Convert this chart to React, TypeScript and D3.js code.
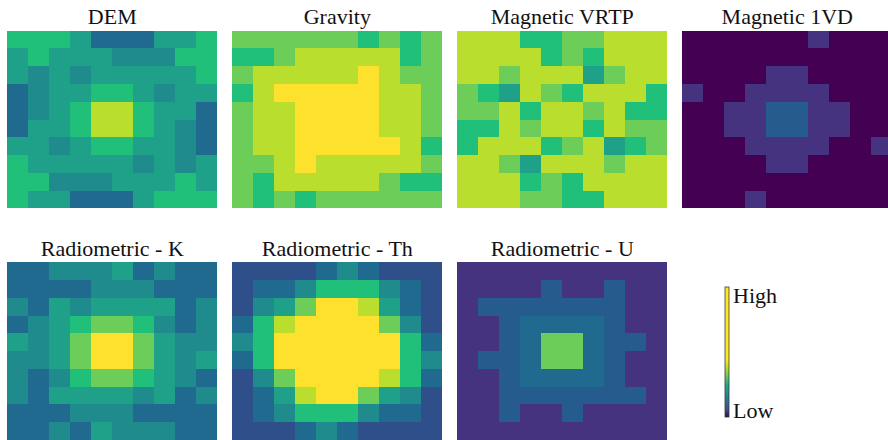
import React from "react";
import * as d3 from "d3";

// Discrete value levels (0 = lowest, 10 = highest) and the colours they map to.
const levelDomain = [0, 1, 2, 3, 4, 5, 6, 7, 8, 9, 10];
const levelColors = [
  "#440154",
  "#45337f",
  "#2e4f8a",
  "#265c8d",
  "#1f6a8e",
  "#1f8b8c",
  "#1fa088",
  "#20c07b",
  "#6dcd59",
  "#b9de2e",
  "#fde12d",
];

const panelTitles = [
  "DEM",
  "Gravity",
  "Magnetic VRTP",
  "Magnetic 1VD",
  "Radiometric - K",
  "Radiometric - Th",
  "Radiometric - U",
];

const demGrid = [
  [7, 7, 7, 6, 4, 4, 4, 6, 6, 7],
  [6, 7, 6, 6, 6, 5, 5, 5, 7, 7],
  [6, 5, 6, 5, 6, 6, 6, 6, 6, 7],
  [4, 5, 6, 6, 7, 7, 6, 5, 6, 6],
  [4, 5, 6, 7, 9, 9, 7, 6, 6, 4],
  [4, 6, 6, 7, 9, 9, 7, 6, 5, 4],
  [6, 6, 5, 6, 7, 7, 6, 6, 5, 4],
  [7, 6, 6, 6, 6, 6, 5, 6, 5, 6],
  [7, 7, 5, 5, 5, 6, 6, 6, 7, 6],
  [7, 6, 6, 4, 4, 4, 6, 7, 7, 7],
];

const gravityGrid = [
  [8, 8, 8, 8, 8, 8, 7, 8, 7, 8],
  [7, 7, 8, 9, 9, 9, 9, 9, 7, 8],
  [8, 9, 9, 9, 9, 9, 10, 9, 8, 8],
  [7, 9, 10, 10, 10, 10, 10, 9, 9, 8],
  [8, 9, 9, 10, 10, 10, 10, 9, 9, 8],
  [8, 9, 9, 10, 10, 10, 10, 9, 9, 8],
  [8, 9, 9, 10, 10, 10, 10, 10, 9, 7],
  [8, 8, 9, 10, 9, 9, 9, 9, 9, 8],
  [8, 7, 9, 9, 9, 9, 9, 8, 7, 7],
  [8, 7, 8, 7, 8, 8, 8, 8, 8, 8],
];

const vrtpGrid = [
  [9, 9, 9, 7, 7, 8, 8, 9, 9, 9],
  [9, 9, 9, 9, 7, 8, 7, 9, 9, 9],
  [9, 9, 8, 9, 9, 9, 6, 8, 9, 9],
  [8, 7, 6, 9, 8, 7, 9, 9, 9, 7],
  [8, 8, 9, 7, 9, 9, 8, 9, 7, 7],
  [7, 7, 9, 8, 9, 9, 7, 9, 8, 8],
  [7, 9, 9, 9, 7, 8, 9, 6, 7, 8],
  [9, 9, 8, 6, 9, 9, 9, 8, 9, 9],
  [9, 9, 9, 7, 8, 7, 9, 9, 9, 9],
  [9, 9, 9, 8, 8, 7, 7, 9, 9, 9],
];

const vd1Grid = [
  [0, 0, 0, 0, 0, 0, 1, 0, 0, 0],
  [0, 0, 0, 0, 0, 0, 0, 0, 0, 0],
  [0, 0, 0, 0, 1, 1, 0, 0, 0, 0],
  [1, 0, 0, 1, 1, 1, 1, 0, 0, 0],
  [0, 0, 1, 1, 3, 3, 1, 1, 0, 0],
  [0, 0, 1, 1, 3, 3, 1, 1, 0, 0],
  [0, 0, 0, 1, 1, 1, 1, 0, 0, 1],
  [0, 0, 0, 0, 1, 1, 0, 0, 0, 0],
  [0, 0, 0, 0, 0, 0, 0, 0, 0, 0],
  [0, 0, 0, 1, 0, 0, 0, 0, 0, 0],
];

const kGrid = [
  [4, 4, 5, 5, 5, 6, 4, 5, 4, 4],
  [4, 4, 4, 4, 5, 5, 5, 4, 4, 4],
  [5, 4, 6, 5, 6, 6, 6, 6, 4, 5],
  [4, 5, 6, 7, 8, 8, 7, 5, 4, 5],
  [6, 5, 6, 8, 10, 10, 8, 6, 5, 5],
  [5, 5, 6, 8, 10, 10, 8, 6, 5, 6],
  [5, 4, 5, 7, 8, 8, 7, 6, 5, 4],
  [5, 4, 6, 6, 6, 6, 5, 6, 4, 5],
  [4, 4, 4, 5, 5, 5, 4, 4, 4, 4],
  [4, 4, 5, 4, 6, 5, 5, 5, 4, 4],
];

const thGrid = [
  [2, 2, 2, 2, 4, 5, 4, 2, 2, 2],
  [2, 4, 4, 5, 7, 7, 7, 5, 4, 2],
  [2, 5, 6, 8, 10, 10, 9, 6, 4, 2],
  [4, 7, 9, 10, 10, 10, 10, 8, 5, 2],
  [5, 7, 10, 10, 10, 10, 10, 10, 7, 4],
  [4, 7, 10, 10, 10, 10, 10, 10, 7, 5],
  [2, 5, 8, 10, 10, 10, 10, 9, 7, 4],
  [2, 4, 6, 9, 10, 10, 8, 6, 5, 2],
  [2, 4, 5, 7, 7, 7, 5, 4, 4, 2],
  [2, 2, 2, 4, 5, 4, 2, 2, 2, 2],
];

const uGrid = [
  [1, 1, 1, 1, 1, 1, 1, 1, 1, 1],
  [1, 1, 1, 1, 3, 1, 1, 3, 1, 1],
  [1, 3, 3, 3, 3, 3, 3, 3, 1, 1],
  [1, 1, 3, 4, 4, 4, 4, 3, 1, 1],
  [1, 1, 3, 4, 8, 8, 4, 3, 3, 1],
  [1, 3, 3, 4, 8, 8, 4, 3, 1, 1],
  [1, 1, 3, 4, 4, 4, 4, 3, 1, 1],
  [1, 1, 3, 3, 3, 3, 3, 3, 3, 1],
  [1, 1, 3, 1, 1, 3, 1, 1, 1, 1],
  [1, 1, 1, 1, 1, 1, 1, 1, 1, 1],
];

const panelGrids = [demGrid, gravityGrid, vrtpGrid, vd1Grid, kGrid, thGrid, uGrid];

// Colour bar stops, top (high) to bottom (low).
const colorbarStops = [
  { offset: 0, color: "#fde725" },
  { offset: 0.56, color: "#fde725" },
  { offset: 0.62, color: "#b5de2b" },
  { offset: 0.68, color: "#6ece58" },
  { offset: 0.75, color: "#22a884" },
  { offset: 0.82, color: "#21908c" },
  { offset: 0.89, color: "#31688e" },
  { offset: 0.94, color: "#3b528b" },
  { offset: 1, color: "#440154" },
];
const colorbarLabels = ["High", "Low"];

const WIDTH = 888;
const HEIGHT = 440;
const PANEL_LEFT = 7.3;
const PANEL_STRIDE = 225;
const PANEL_W = 210;
const PANEL_H = 177.6;
const ROW_TOPS = [30.7, 262.3];
const TITLE_BASELINES = [24, 255.7];
const FONT = '"Liberation Serif", "Times New Roman", Times, serif';

const color = d3.scaleOrdinal<number, string>().domain(levelDomain).range(levelColors);

function Heatmap({ grid, x0, y0 }: { grid: number[][]; x0: number; y0: number }) {
  const nRows = grid.length;
  const nCols = grid[0].length;
  const xs = d3.scaleBand<number>().domain(d3.range(nCols)).range([x0, x0 + PANEL_W]).padding(0);
  const ys = d3.scaleBand<number>().domain(d3.range(nRows)).range([y0, y0 + PANEL_H]).padding(0);
  // Snap cell edges to whole pixels so neighbouring cells meet without seams.
  const edgeX = (c: number) => Math.round(c < nCols ? (xs(c) as number) : x0 + PANEL_W);
  const edgeY = (r: number) => Math.round(r < nRows ? (ys(r) as number) : y0 + PANEL_H);
  return (
    <g shapeRendering="crispEdges">
      {grid.map((row, r) =>
        row.map((v, c) => (
          <rect
            key={`${r}-${c}`}
            x={edgeX(c)}
            y={edgeY(r)}
            width={edgeX(c + 1) - edgeX(c)}
            height={edgeY(r + 1) - edgeY(r)}
            fill={color(v)}
          />
        ))
      )}
    </g>
  );
}

export default function App() {
  const barX = 725;
  const barY = 287;
  const barW = 4;
  const barH = 130;
  const textStyle = { fontFamily: FONT, fontSize: "22px" };
  return (
    <svg
      width={WIDTH}
      height={HEIGHT}
      viewBox={`0 0 ${WIDTH} ${HEIGHT}`}
      style={{ position: "absolute", left: 0, top: 0, background: "#ffffff" }}
    >
      <defs>
        <linearGradient id="cbar" x1="0" y1="0" x2="0" y2="1">
          {colorbarStops.map((s, i) => (
            <stop key={i} offset={s.offset} stopColor={s.color} />
          ))}
        </linearGradient>
      </defs>
      <rect x={0} y={0} width={WIDTH} height={HEIGHT} fill="#ffffff" />
      {panelGrids.map((grid, i) => {
        const rowIdx = i < 4 ? 0 : 1;
        const colIdx = i < 4 ? i : i - 4;
        const x0 = PANEL_LEFT + colIdx * PANEL_STRIDE;
        const y0 = ROW_TOPS[rowIdx];
        return (
          <g key={i}>
            <Heatmap grid={grid} x0={x0} y0={y0} />
            <text
              x={x0 + PANEL_W / 2}
              y={TITLE_BASELINES[rowIdx]}
              textAnchor="middle"
              style={textStyle}
              fill="#111"
            >
              {panelTitles[i]}
            </text>
          </g>
        );
      })}
      <rect
        x={barX}
        y={barY}
        width={barW}
        height={barH}
        fill="url(#cbar)"
        stroke="#3a3a3a"
        strokeWidth={0.8}
      />
      <text x={barX + 8} y={303} style={textStyle} fill="#111">
        {colorbarLabels[0]}
      </text>
      <text x={barX + 8} y={418} style={textStyle} fill="#111">
        {colorbarLabels[1]}
      </text>
    </svg>
  );
}
